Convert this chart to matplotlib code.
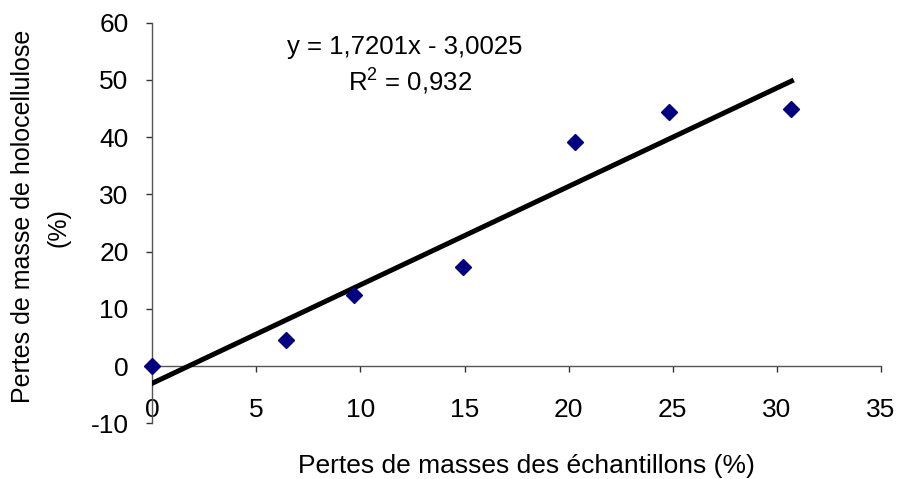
import numpy as np
import matplotlib.pyplot as plt

plt.rcParams['font.family'] = ['Liberation Sans', 'DejaVu Sans']
plt.rcParams['axes.unicode_minus'] = False
plt.rcParams['mathtext.fontset'] = 'custom'
plt.rcParams['mathtext.rm'] = 'Liberation Sans'

# pertes de masse des échantillons (%) et pertes de holocellulose (%)
pertes_echantillons = [0.0, 6.4, 9.7, 14.9, 20.3, 24.8, 30.7]
pertes_holocellulose = [0.0, 4.5, 12.5, 17.3, 39.2, 44.4, 44.9]

# courbe de tendance (Excel)
pente = 1.7201
ordonnee = -3.0025
equation = "y = 1,7201x - 3,0025"
r2_texte = r"R$^\mathrm{2}$ = 0,932"

x_ticks = [0, 5, 10, 15, 20, 25, 30, 35]
y_ticks = [-10, 0, 10, 20, 30, 40, 50, 60]

fig = plt.figure(figsize=(8.99, 4.79), dpi=100)
ax = fig.add_axes([0.1694, 0.1163, 0.8106, 0.8363])

x_fit = np.array([0, max(pertes_echantillons)])
ax.plot(x_fit, pente * x_fit + ordonnee, color='black', lw=3.6, zorder=3)
ax.plot(pertes_echantillons, pertes_holocellulose, linestyle='none',
        marker='D', markersize=7.8, color='#000080', zorder=4, clip_on=False)

ax.set_xlim(0, 35)
ax.set_ylim(-10, 60)
ax.set_xticks(x_ticks)
ax.set_yticks(y_ticks)

for s in ['top', 'right']:
    ax.spines[s].set_visible(False)
ax.spines['bottom'].set_position(('data', 0))
for s in ['left', 'bottom']:
    ax.spines[s].set_color('#555555')
    ax.spines[s].set_linewidth(1)
ax.tick_params(axis='x', direction='out', length=4, width=1, color='#333333',
               labelsize=19, pad=19)
ax.tick_params(axis='y', direction='out', length=4, width=1, color='#333333',
               labelsize=19, pad=13)

ax.text(0.347, 0.94, equation, transform=ax.transAxes, ha='center', va='center',
        fontsize=18.5)
ax.text(0.354, 0.855, r2_texte, transform=ax.transAxes, ha='center', va='center',
        fontsize=18.5)

fig.text(526 / 899, 1 - 466 / 479, "Pertes de masses des échantillons (%)",
         ha='center', va='center', fontsize=19)
fig.text(23 / 899, 1 - 216 / 479, "Pertes de masse de holocellulose",
         ha='center', va='center', rotation=90, fontsize=18)
fig.text(58 / 899, 1 - 228 / 479, "(%)",
         ha='center', va='center', rotation=90, fontsize=18)

fig.savefig("out.png", dpi=100)
